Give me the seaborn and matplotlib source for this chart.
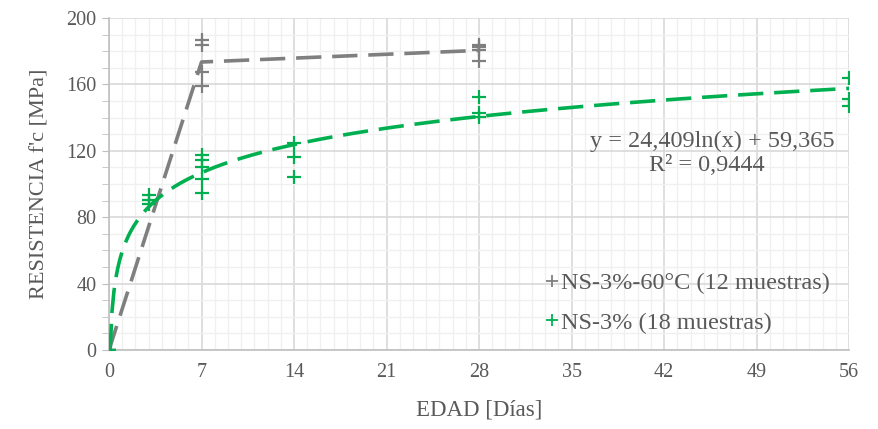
import numpy as np
import pandas as pd
import matplotlib
matplotlib.use("Agg")
import matplotlib.pyplot as plt
from matplotlib.ticker import MultipleLocator
import seaborn as sns

# NS-3%-60°C (12 muestras)
dias_60 = [0, 0, 0, 0, 7, 7, 7, 7, 28, 28, 28, 28]
fc_60 = [0, 0, 0, 0, 186.5, 184, 167.5, 159, 184, 182.5, 180.5, 174]
# mean line of the heated series
dias_60_media = [0, 7, 28]
fc_60_media = [0, 173.5, 180.5]

# NS-3% (18 muestras)
dias_ns = [0, 0, 3, 3, 3, 7, 7, 7, 7, 7, 14, 14, 14, 28, 28, 28, 56, 56, 56]
fc_ns = [0, 0, 93.5, 90.5, 88, 117.5, 114.5, 110.5, 103, 94.5, 124.5, 116.5, 104.5,
         152.5, 142.5, 140.5, 164, 151.5, 147]

# trend line shown on the chart: y = a ln(x) + b
coef_a = 24.409
coef_b = 59.365
x_trend = np.linspace(0.09, 56, 400)
y_trend = coef_a * np.log(x_trend) + coef_b

gris = "#7f7f7f"
verde = "#00b050"
texto = "#595959"

sns.set_style("white")
plt.rcParams['font.family'] = ['Liberation Serif', 'DejaVu Serif']

fig = plt.figure(figsize=(8.79, 4.29), dpi=100)
ax = fig.add_axes([0.124, 0.184, 0.842, 0.774])

# gridlines
ax.xaxis.set_major_locator(MultipleLocator(7))
ax.xaxis.set_minor_locator(MultipleLocator(1))
ax.yaxis.set_major_locator(MultipleLocator(40))
ax.yaxis.set_minor_locator(MultipleLocator(10))
ax.grid(which="major", color="#d9d9d9", lw=1.2)
ax.grid(which="minor", color="#f0f0f0", lw=1.0)
ax.set_axisbelow(True)

sns.lineplot(x=dias_60_media, y=fc_60_media, ax=ax, color=gris, lw=2.6,
             linestyle=(0, (7, 3)), zorder=3)
sns.lineplot(x=x_trend, y=y_trend, ax=ax, color=verde, lw=2.6,
             linestyle=(0, (7, 3)), zorder=3)

ax.plot(dias_60, fc_60, ls="none", marker="+", ms=10, mew=1.6, color=gris,
        label="NS-3%-60°C (12 muestras)", zorder=4)
ax.plot(dias_ns, fc_ns, ls="none", marker="+", ms=10, mew=1.6, color=verde,
        label="NS-3% (18 muestras)", zorder=4)

ax.set_xlim(0, 56)
ax.set_ylim(0, 200)

for s in ["top", "right"]:
    ax.spines[s].set_visible(False)
for s in ["left", "bottom"]:
    ax.spines[s].set_color("#bfbfbf")
    ax.spines[s].set_linewidth(1.2)

ax.tick_params(axis="x", which="major", length=0, pad=9, labelsize=14.5, labelcolor=texto)
ax.tick_params(axis="x", which="minor", length=5, direction="in", color="#bfbfbf")
ax.tick_params(axis="y", which="both", length=5, direction="out", color="#bfbfbf",
               labelsize=14.5, labelcolor=texto, left=True)
ax.tick_params(axis="y", which="major", pad=4)

ax.set_xlabel("EDAD [Días]", fontsize=16.5, color=texto, labelpad=13)
ax.set_ylabel("RESISTENCIA f'c [MPa]", fontsize=16, color=texto, labelpad=12)

ax.text(0.981, 0.628, "y = 24,409ln(x) + 59,365", transform=ax.transAxes,
        ha="right", va="center", fontsize=17.5, color=texto)
ax.text(0.808, 0.555, "R² = 0,9444", transform=ax.transAxes,
        ha="center", va="center", fontsize=17.5, color=texto)

leg = ax.legend(loc="center left", bbox_to_anchor=(0.59, 0.142), frameon=False,
                fontsize=17.5, handlelength=0.5, handletextpad=0.15,
                labelspacing=0.72, borderaxespad=0, borderpad=0, markerscale=0.9)
for t in leg.get_texts():
    t.set_color(texto)
for h in leg.legend_handles:
    h.set_markeredgewidth(1.3)

fig.savefig("out.png", dpi=100)
